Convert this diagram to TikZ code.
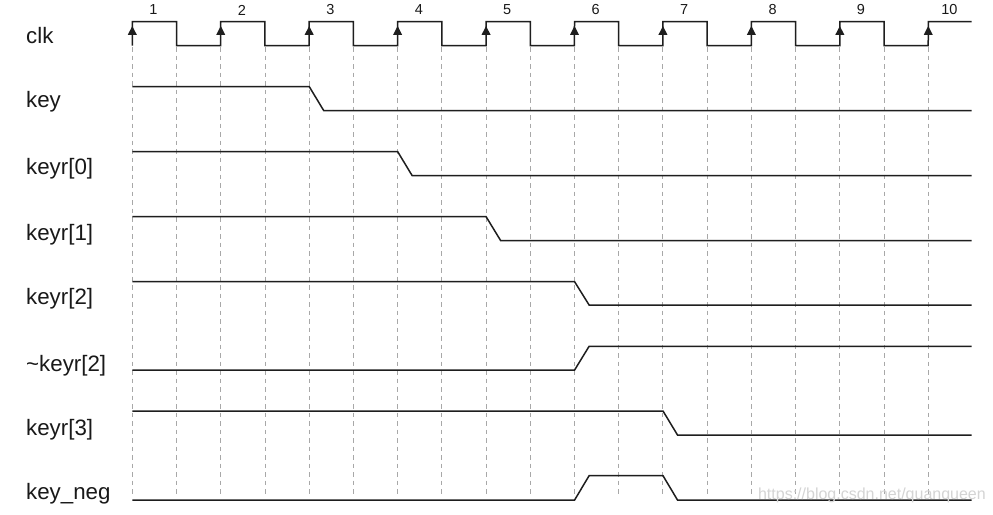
\documentclass[tikz,border=0pt]{standalone}
\usepackage{fontspec}
\setmainfont{Liberation Sans}
\definecolor{wave}{HTML}{1E1E1E}
\definecolor{gridc}{HTML}{A8A8A8}
\definecolor{wmark}{HTML}{D4D4D4}
\begin{document}
\begin{tikzpicture}[x=1pt,y=-1pt,
  sig/.style={line width=1.5pt, draw=wave, line join=miter},
  gridline/.style={draw=gridc, line width=0.9pt, dash pattern=on 4.5pt off 4pt},
  lbl/.style={anchor=base west, inner sep=0pt, font=\fontsize{22.3}{22.3}\selectfont, text=black!90},
  num/.style={inner sep=0pt, font=\fontsize{14.5}{14.5}\selectfont, text=black!90},
  edgetip/.style={fill=wave, draw=none}]
\useasboundingbox[fill=white] (0,0) rectangle (993,514);

% dashed grid lines at every clock edge
\foreach \i in {0,...,18}
  \draw[gridline] ({132.3+\i*44.22},47) -- ({132.3+\i*44.22},496);

% clock
\draw[sig] (132.3,45.7) \foreach \i in {0,...,8} {
   -- ({132.3+\i*88.44},21.7) -- ({176.5+\i*88.44},21.7)
   -- ({176.5+\i*88.44},45.7) -- ({220.7+\i*88.44},45.7)}
   -- (928.3,21.7) -- (971.7,21.7);
\foreach \i in {1,...,10} {
  \fill[edgetip] ({132.3+(\i-1)*88.44},26) -- ({127.8+(\i-1)*88.44},34.8) -- ({136.8+(\i-1)*88.44},34.8) -- cycle;
  \node[num] (n\i) at ({153.5+(\i-1)*88.44},10) {\i};
}

% labels
\node[lbl] (lclk) at (26,43) {clk};
\node[lbl] (lkey) at (26,107) {key};
\node[lbl] (lk0) at (26,174) {keyr[0]};
\node[lbl] (lk1) at (26,240) {keyr[1]};
\node[lbl] (lk2) at (26,304) {keyr[2]};
\node[lbl] (lnk2) at (26,371) {\char"7E keyr[2]};
\node[lbl] (lk3) at (26,435) {keyr[3]};
\node[lbl] (lneg) at (26,499) {key\_neg};

% waveforms
\draw[sig] (132.3,86.7) -- (309.3,86.7) -- (323.8,110.7) -- (971.7,110.7);
\draw[sig] (132.3,151.7) -- (397.7,151.7) -- (412.2,175.7) -- (971.7,175.7);
\draw[sig] (132.3,216.7) -- (486.1,216.7) -- (500.6,240.5) -- (971.7,240.5);
\draw[sig] (132.3,281.7) -- (574.6,281.7) -- (589.1,305) -- (971.7,305);
\draw[sig] (132.3,370) -- (574.6,370) -- (589.1,346.3) -- (971.7,346.3);
\draw[sig] (132.3,411) -- (663,411) -- (677.5,435) -- (971.7,435);
\draw[sig] (132.3,500) -- (574.6,500) -- (589.1,475.7) -- (663,475.7) -- (677.5,500) -- (971.7,500);

% watermark
\node[inner sep=0pt, anchor=east, text=wmark, font=\fontsize{16}{16}\selectfont] (wm) at (986,495) {https://blog.csdn.net/quanqueen};
\end{tikzpicture}
\end{document}
